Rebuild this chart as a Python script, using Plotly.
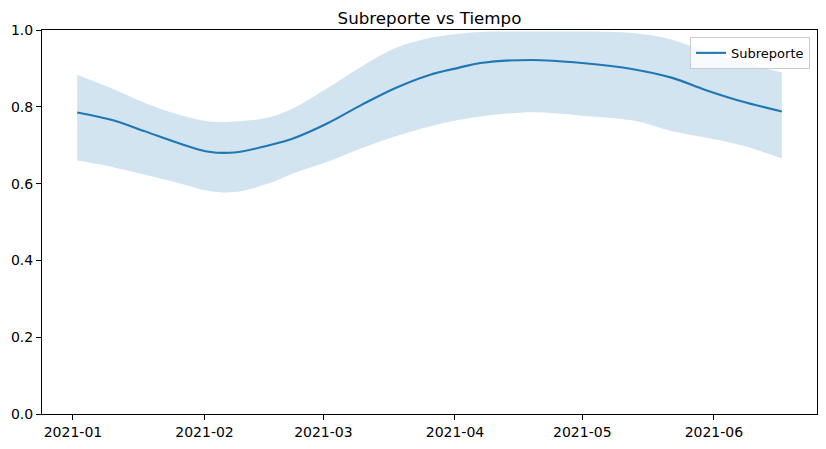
import plotly.graph_objs as go

# fechas y valores
fechas = ["2021-01-02", "2021-01-10", "2021-01-18", "2021-01-26", "2021-02-02",
          "2021-02-08", "2021-02-16", "2021-02-22", "2021-03-02", "2021-03-10",
          "2021-03-18", "2021-03-26", "2021-04-02", "2021-04-07", "2021-04-19",
          "2021-05-01", "2021-05-13", "2021-05-22", "2021-05-30", "2021-06-07",
          "2021-06-17"]
subreporte = [0.785, 0.766, 0.736, 0.705, 0.683, 0.681, 0.699, 0.718, 0.757, 0.805,
              0.849, 0.883, 0.902, 0.914, 0.922, 0.914, 0.898, 0.876, 0.844, 0.816,
              0.788]
banda_sup = [0.883, 0.849, 0.810, 0.779, 0.762, 0.762, 0.772, 0.797, 0.849, 0.905,
             0.953, 0.979, 0.990, 0.995, 0.996, 0.996, 0.992, 0.975, 0.944, 0.918,
             0.889]
banda_inf = [0.660, 0.644, 0.623, 0.601, 0.581, 0.578, 0.600, 0.627, 0.657, 0.692,
             0.723, 0.749, 0.766, 0.775, 0.786, 0.777, 0.764, 0.737, 0.720, 0.701,
             0.666]

tick_fechas = ["2021-01-01", "2021-02-01", "2021-03-01", "2021-04-01", "2021-05-01", "2021-06-01"]
tick_textos = ["2021-01", "2021-02", "2021-03", "2021-04", "2021-05", "2021-06"]
y_ticks = [0.0, 0.2, 0.4, 0.6, 0.8, 1.0]

azul = "#1f77b4"
fig = go.Figure()
# banda de incertidumbre
fig.add_trace(go.Scatter(x=fechas, y=banda_inf, mode="lines", line=dict(width=0, shape="spline"),
                         showlegend=False, hoverinfo="skip"))
fig.add_trace(go.Scatter(x=fechas, y=banda_sup, mode="lines", line=dict(width=0, shape="spline"),
                         fill="tonexty", fillcolor="rgba(31,119,180,0.2)",
                         showlegend=False, hoverinfo="skip"))
# linea central
fig.add_trace(go.Scatter(x=fechas, y=subreporte, mode="lines", name="Subreporte",
                         line=dict(color=azul, width=2.1, shape="spline")))

eje = dict(showline=True, linecolor="black", linewidth=1.1, mirror=True,
           ticks="outside", ticklen=5, tickwidth=1.1, tickcolor="black",
           showgrid=False, zeroline=False, automargin=False,
           tickfont=dict(size=14, color="black"))

# la pagina tiene 8px de margen, el grafico se reduce para caber
fig.update_layout(
    width=818, height=441,
    margin=dict(l=34, r=9, t=22, b=35, autoexpand=False),
    paper_bgcolor="white", plot_bgcolor="white",
    font=dict(family="DejaVu Sans", color="black"),
    title=dict(text="Subreporte vs Tiempo", x=0.5, xref="paper", xanchor="center",
               y=1, yref="paper", yanchor="bottom", pad=dict(b=6), automargin=False,
               font=dict(size=16.7, color="black")),
    xaxis=dict(eje, type="date", range=["2020-12-24 17:00", "2021-06-25 07:00"],
               tickvals=tick_fechas, ticktext=tick_textos),
    yaxis=dict(eje, range=[0, 1], tickvals=y_ticks, tickformat=".1f"),
    legend=dict(x=0.991, y=0.982, xanchor="right", yanchor="top",
                bgcolor="rgba(255,255,255,0.8)", bordercolor="#cccccc", borderwidth=1,
                font=dict(size=13), tracegroupgap=0, itemwidth=30),
)

fig.write_html("out.html")
